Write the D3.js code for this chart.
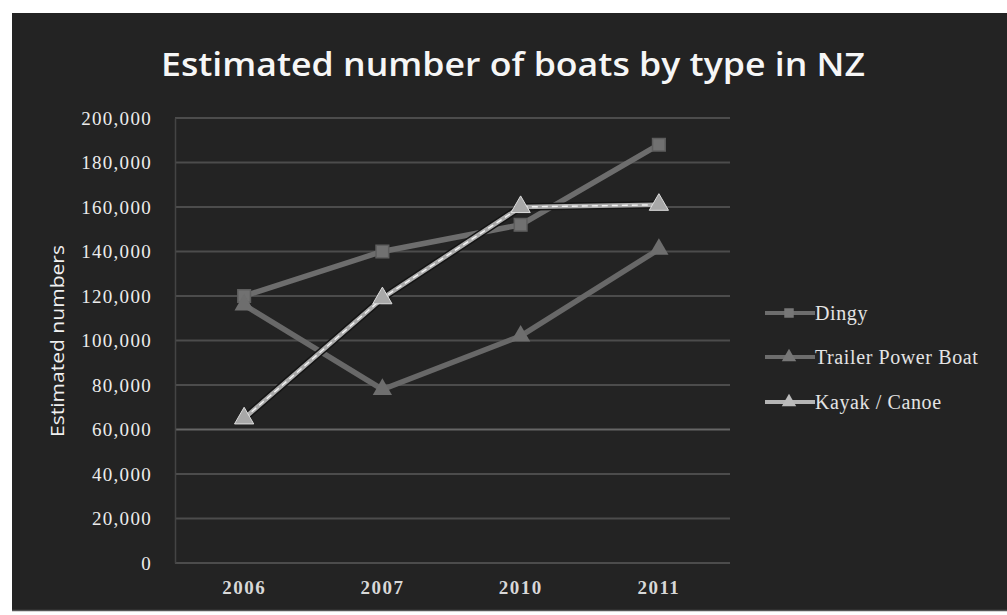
<!DOCTYPE html>
<html>
<head>
<meta charset="utf-8">
<script src="https://cdn.jsdelivr.net/npm/d3@7/dist/d3.min.js"></script>
<style>
  html, body { margin: 0; padding: 0; background: #fff; }
  svg { display: block; }
</style>
</head>
<body>
<div id="chart"></div>
<script>
// Data
var years = ["2006", "2007", "2010", "2011"];
var dingy = [120000, 140000, 152000, 188000];
var trailerPowerBoat = [116000, 78000, 102000, 141000];
var kayakCanoe = [65000, 119000, 160000, 161000];
var seriesNames = ["Dingy", "Trailer Power Boat", "Kayak / Canoe"];
var yTicks = [0, 20000, 40000, 60000, 80000, 100000, 120000, 140000, 160000, 180000, 200000];

var W = 1007, H = 615;
var plot = { left: 175, right: 728, top: 118, bottom: 563 };

var svg = d3.select("#chart").append("svg")
  .attr("width", W)
  .attr("height", H);

// dark chart panel
svg.append("rect")
  .attr("x", 12).attr("y", 13)
  .attr("width", W - 12).attr("height", 598)
  .attr("fill", "#232323");
svg.append("line")
  .attr("x1", 12).attr("x2", W)
  .attr("y1", 610.5).attr("y2", 610.5)
  .attr("stroke", "#555").attr("stroke-width", 1.5);

// title
svg.append("text")
  .attr("x", 513).attr("y", 76)
  .attr("text-anchor", "middle")
  .attr("font-family", "'Open Sans', 'DejaVu Sans', sans-serif")
  .attr("font-size", 33)
  .attr("font-weight", 600)
  .attr("fill", "#f6f6f6")
  .attr("textLength", 704)
  .attr("lengthAdjust", "spacingAndGlyphs")
  .text("Estimated number of boats by type in NZ");

var x = d3.scaleBand().domain(years).range([plot.left, plot.right]);
var y = d3.scaleLinear().domain([0, 200000]).range([plot.bottom, plot.top]);

var g = svg.append("g");

// gridlines
g.selectAll(".grid")
  .data(yTicks)
  .join("line")
  .attr("class", "grid")
  .attr("x1", plot.left).attr("x2", plot.right + 2)
  .attr("y1", function (d) { return y(d); })
  .attr("y2", function (d) { return y(d); })
  .attr("stroke", function (d) { return d === 60000 ? "#666" : "#4c4c4c"; })
  .attr("stroke-width", 2);

// y axis
var yAxis = d3.axisLeft(y)
  .tickValues(yTicks)
  .tickSize(0)
  .tickPadding(23)
  .tickFormat(d3.format(","));
var ya = g.append("g")
  .attr("transform", "translate(" + plot.left + ",0)")
  .call(yAxis);
ya.select(".domain").attr("stroke", "#444").attr("stroke-width", 1.5);
ya.selectAll("text")
  .attr("font-family", "'Liberation Serif', 'DejaVu Serif', serif")
  .attr("font-size", 19)
  .attr("letter-spacing", 1.3)
  .attr("fill", "#ececec");

// x axis
var xAxis = d3.axisBottom(x).tickSize(0).tickPadding(18);
var xa = g.append("g")
  .attr("transform", "translate(0," + plot.bottom + ")")
  .call(xAxis);
xa.select(".domain").remove();
xa.selectAll("text")
  .attr("font-family", "'Liberation Serif', 'DejaVu Serif', serif")
  .attr("font-size", 19)
  .attr("font-weight", "bold")
  .attr("letter-spacing", 1.5)
  .attr("fill", "#d8d8d8");

// axis title
svg.append("text")
  .attr("transform", "translate(64,341) rotate(-90)")
  .attr("text-anchor", "middle")
  .attr("font-family", "'Open Sans', 'DejaVu Sans', sans-serif")
  .attr("font-size", 19)
  .attr("fill", "#f0f0f0")
  .attr("textLength", 192)
  .attr("lengthAdjust", "spacingAndGlyphs")
  .text("Estimated numbers");

var cx = function (d, i) { return x(years[i]) + x.bandwidth() / 2; };
var line = d3.line()
  .x(function (d, i) { return cx(d, i); })
  .y(function (d) { return y(d); });

var sq = d3.symbol().type(d3.symbolSquare).size(160);
var tri = d3.symbol().type(d3.symbolTriangle).size(160);

// Dingy
g.append("path").datum(dingy)
  .attr("d", line).attr("fill", "none")
  .attr("stroke", "#6d6d6d").attr("stroke-width", 5.5);
g.selectAll(".m-dingy").data(dingy).join("path")
  .attr("class", "m-dingy")
  .attr("d", sq)
  .attr("transform", function (d, i) { return "translate(" + cx(d, i) + "," + y(d) + ")"; })
  .attr("fill", "#717171").attr("stroke", "#5e5e5e").attr("stroke-width", 1.5);

// Trailer Power Boat
g.append("path").datum(trailerPowerBoat)
  .attr("d", line).attr("fill", "none")
  .attr("stroke", "#686868").attr("stroke-width", 5.5);
g.selectAll(".m-trailer").data(trailerPowerBoat).join("path")
  .attr("class", "m-trailer")
  .attr("d", tri)
  .attr("transform", function (d, i) { return "translate(" + cx(d, i) + "," + y(d) + ")"; })
  .attr("fill", "#6e6e6e");

// Kayak / Canoe
g.append("path").datum(kayakCanoe)
  .attr("d", line).attr("fill", "none")
  .attr("stroke", "#141414").attr("stroke-width", 7.5);
g.append("path").datum(kayakCanoe)
  .attr("d", line).attr("fill", "none")
  .attr("stroke", "#ababab").attr("stroke-width", 4.5);
g.append("path").datum(kayakCanoe)
  .attr("d", line).attr("fill", "none")
  .attr("stroke", "#f2f2f2").attr("stroke-width", 1.4)
  .attr("stroke-dasharray", "6,4");
g.selectAll(".m-kayak").data(kayakCanoe).join("path")
  .attr("class", "m-kayak")
  .attr("d", tri)
  .attr("transform", function (d, i) { return "translate(" + cx(d, i) + "," + y(d) + ")"; })
  .attr("fill", "#a8a8a8").attr("stroke", "#ddd").attr("stroke-width", 1);

// legend
var legY = [313, 357, 402];
var leg = svg.append("g");
var legItem = leg.selectAll(".leg")
  .data(seriesNames)
  .join("g")
  .attr("class", "leg")
  .attr("transform", function (d, i) { return "translate(765," + legY[i] + ")"; });
legItem.append("line")
  .attr("x1", 0).attr("x2", 50)
  .attr("stroke", function (d, i) { return i === 2 ? "#b5b5b5" : "#6d6d6d"; })
  .attr("stroke-width", 4);
legItem.append("path")
  .attr("d", function (d, i) { return i === 0 ? sq() : tri(); })
  .attr("transform", "translate(24,0) scale(0.75)")
  .attr("fill", function (d, i) { return i === 2 ? "#bbb" : "#777"; });
legItem.append("text")
  .attr("x", 50).attr("dy", "0.35em")
  .attr("font-family", "'Liberation Serif', 'DejaVu Serif', serif")
  .attr("font-size", 20)
  .attr("letter-spacing", 0.6)
  .attr("fill", "#e4e4e4")
  .text(function (d) { return d; });
</script>
</body>
</html>
